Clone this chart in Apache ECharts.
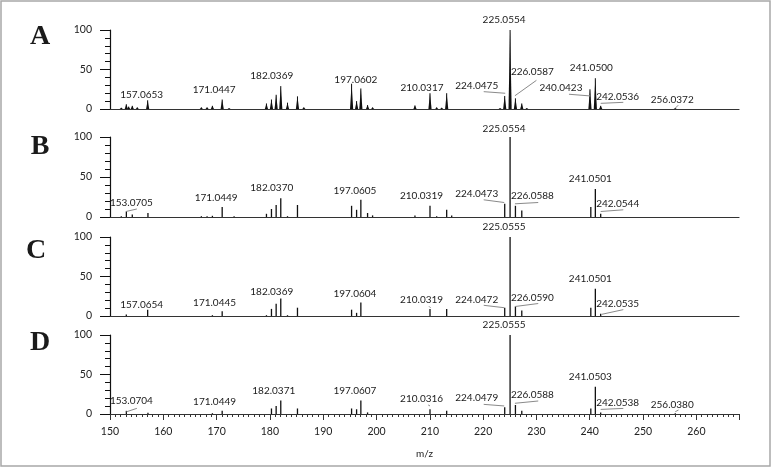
<!DOCTYPE html>
<html><head><meta charset="utf-8">
<script src="https://cdn.jsdelivr.net/npm/echarts@6/dist/echarts.min.js"></script>
<style>html,body{margin:0;padding:0;background:#fff}#c{width:773px;height:468px}</style>
</head><body><div id="c"></div>
<script>
// ---------- DATA ----------
const panelNames = ['A', 'B', 'C', 'D'];
const xMin = 150, xMax = 268, xStep = 10;
const yTicks = [0, 50, 100];
const xTitle = 'm/z';

const mzA  = [152.12,153.06,153.5,154.18,155.12,157.0653,167.14,168.21,169.21,171.0447,172.34,179.35,180.29,181.17,182.0369,183.30,185.17,186.36,195.32,196.26,197.0602,198.32,199.26,207.21,210.0317,211.28,212.22,213.16,223.18,224.0475,225.0554,226.0587,227.25,228.19,240.0423,241.0500,242.0536,256.0372];
const intA = [1.5,6,3,4,2,11,2,2,4,12,1,7,12,18,29,8,16,2,32,10,26,5,2,4.5,20,2,1.5,20,1,16.5,100,13.5,7,1,25,39,4,1];
const labelsA = ['157.0653','171.0447','182.0369','197.0602','210.0317','224.0475','225.0554','226.0587','240.0423','241.0500','242.0536','256.0372'];

const mzB  = [152.12,153.0705,154.18,157.12,167.14,168.21,169.21,171.0449,173.28,179.35,180.29,181.17,182.0370,183.30,185.17,195.32,196.26,197.0605,198.32,199.26,207.21,210.0319,211.28,213.16,214.10,224.0473,225.0554,226.0588,227.25,240.2,241.0501,242.0544];
const intB = [1,7,3,5,1,1,1.5,12.4,1,4,10,15,23.5,1,15,14,9,21.5,5,2,2,14,1,9,2,16.5,100,14,8,12.4,35,4];
const labelsB = ['153.0705','171.0449','182.0370','197.0605','210.0319','224.0473','225.0554','226.0588','241.0501','242.0544'];

const mzC  = [153.06,157.0654,169.21,171.0445,179.35,180.29,181.17,182.0369,183.30,185.17,195.32,196.26,197.0604,210.0319,213.16,224.0472,225.0555,226.0590,227.25,240.2,241.0501,242.0535];
const intC = [2,8,1,6,1,9,15.6,22,1,10.5,8,4,17,9,9,10.5,100,12,7,10.5,34.6,3];
const labelsC = ['157.0654','171.0445','182.0369','197.0604','210.0319','224.0472','225.0555','226.0590','241.0501','242.0535'];

const mzD  = [153.0704,157.12,169.21,171.0449,180.29,181.17,182.0371,185.17,195.32,196.26,197.0607,198.32,210.0316,213.16,224.0479,225.0555,226.0588,227.25,240.2,241.0503,242.0538,256.0380];
const intD = [4,1.5,1,4,7,10,17,7,7,6,17,2,6,4,8.4,100,11.4,4,7,34.6,2,1];
const labelsD = ['153.0704','171.0449','182.0371','197.0607','210.0316','224.0479','225.0555','226.0588','241.0503','242.0538','256.0380'];

// ---------- LAYOUT (label offsets in px relative to peak top; l = leader x1,y1,x2,y2) ----------
const labelLayout = [
 [{d:[-6,-6]},{d:[-8,-10]},{d:[-9,-10]},{d:[-5,-8.5]},{d:[-8,-5.5]},
  {d:[-28,-10],l:[-21,-4.3,0.5,-2.7]},{d:[-6,-10]},{d:[17,-27],l:[-0.5,-2.6,21,-18]},
  {d:[-29,-1],l:[-21,5,0.4,6.7]},{d:[-4,-10]},{d:[17,-9],l:[0,-2.5,22.6,-3.5]},{d:[-3,-8],l:[0,0,3,-3]}],
 [{d:[5,-9],l:[0,0,10.5,-2.4]},{d:[-6,-9.6]},{d:[-9,-10.7]},{d:[-6,-9]},{d:[-8.5,-10]},
  {d:[-28,-10],l:[-21,-4,-0.5,-1.3]},{d:[-6,-8.5]},{d:[17,-10],l:[-0.5,-2,22.8,-3.3]},{d:[-5,-10]},{d:[17,-10],l:[0,-2.3,22.6,-4]}],
 [{d:[-6,-4.5]},{d:[-7.6,-8.3]},{d:[-9,-6.6]},{d:[-6,-9]},{d:[-8.4,-9.6],l:[-1,-2.6,0.6,-1]},
  {d:[-28,-8.4],l:[-21,-2.4,-0.5,0]},{d:[-6,-10]},{d:[17,-9],l:[-0.5,0,22.8,-3]},{d:[-5,-10]},{d:[17,-10],l:[1,0.7,22.6,-4]}],
 [{d:[5,-10],l:[0,1,10.5,-2.5]},{d:[-7.6,-9]},{d:[-7,-9.6]},{d:[-6,-9.6]},{d:[-8.4,-10.3],l:[-1.8,-4.3,0,-3.3]},
  {d:[-28,-10],l:[-21,-3,-0.5,-1.4]},{d:[-6,-10]},{d:[17,-10],l:[-0.5,-1.7,22.8,-4]},{d:[-5,-9.4]},{d:[17,-10],l:[0,-3,22.6,-4]},{d:[-3,-8],l:[0,-1.5,3.3,-3.2]}]
];
const gridTops = [30, 137, 237, 335];
const gridHeights = [79, 80, 79, 79];
const letterPos = [[40,37],[40,147],[36,251],[40,343]];

const panels = [
  {mz: mzA, it: intA, labels: labelsA, profile: true},
  {mz: mzB, it: intB, labels: labelsB, profile: false},
  {mz: mzC, it: intC, labels: labelsC, profile: false},
  {mz: mzD, it: intD, labels: labelsD, profile: false}
];

const FONT = 'Lato';
const chart = echarts.init(document.getElementById('c'), null, {renderer: 'canvas'});

const grid = [], xAxis = [], yAxis = [], series = [];
panels.forEach((p, i) => {
  const last = i === 3;
  grid.push({left: 110, width: 629, top: gridTops[i], height: gridHeights[i]});
  xAxis.push({
    type: 'value', gridIndex: i, min: xMin, max: xMax, interval: xStep,
    axisLine: {show: true, onZero: false, lineStyle: {color: '#333', width: 1.2}},
    axisTick: {show: last, length: 6, lineStyle: {color: '#333'}},
    minorTick: {show: last, splitNumber: 10, length: 3, lineStyle: {color: '#333'}},
    axisLabel: {show: last, margin: 12, color: '#222', fontFamily: FONT, fontSize: 10.5, showMaxLabel: false,
      formatter: v => (v % 10 === 0 ? String(v) : '')},
    splitLine: {show: false},
    name: last ? xTitle : '', nameLocation: 'middle', nameGap: 35,
    nameTextStyle: {color: '#222', fontFamily: FONT, fontSize: 10}
  });
  yAxis.push({
    type: 'value', gridIndex: i, min: yTicks[0], max: yTicks[yTicks.length - 1], interval: yTicks[1] - yTicks[0],
    axisLine: {show: true, lineStyle: {color: '#111', width: 1.2}},
    axisTick: {show: true, length: 10, lineStyle: {color: '#111'}},
    minorTick: {show: true, splitNumber: 5, length: 5, lineStyle: {color: '#111'}},
    axisLabel: {margin: 18, color: '#222', fontFamily: FONT, fontSize: 10.5},
    splitLine: {show: false}
  });
  const peakData = p.mz.map((m, k) => [m, p.it[k]]);
  series.push({
    type: 'custom', coordinateSystem: 'cartesian2d', xAxisIndex: i, yAxisIndex: i,
    data: peakData, encode: {x: 0, y: 1}, clip: false, z: 3, silent: true,
    renderItem: (params, api) => {
      const x = api.value(0), h = api.value(1);
      const p0 = api.coord([x, 0]), p1 = api.coord([x, h]);
      if (p.profile) {
        return {type: 'group', children: [
          {type: 'polygon', shape: {points: [[p0[0] - 1.6, p0[1]], [p1[0], p1[1]], [p0[0] + 1.6, p0[1]]]}, style: {fill: '#111'}},
          {type: 'line', shape: {x1: p0[0], y1: p0[1], x2: p1[0], y2: p1[1]}, style: {stroke: '#111', lineWidth: 1}}
        ]};
      }
      return {type: 'line', shape: {x1: p0[0], y1: p0[1], x2: p1[0], y2: p1[1]}, style: {stroke: '#111', lineWidth: 1.3}};
    }
  });
  const labData = p.labels.map((s, k) => {
    const m = parseFloat(s);
    let best = 0;
    p.mz.forEach((v, j) => { if (Math.abs(v - m) < Math.abs(p.mz[best] - m)) best = j; });
    return [p.mz[best], p.it[best], k];
  });
  series.push({
    type: 'custom', coordinateSystem: 'cartesian2d', xAxisIndex: i, yAxisIndex: i,
    data: labData, encode: {x: 0, y: 1}, clip: false, z: 5, silent: true,
    renderItem: (params, api) => {
      const x = api.value(0), h = api.value(1), k = api.value(2);
      const top = api.coord([x, h]);
      const lay = labelLayout[i][k];
      const children = [{
        type: 'text', x: top[0] + lay.d[0], y: top[1] + lay.d[1],
        style: {text: p.labels[k], fill: '#1a1a1a', font: '10px ' + FONT, align: 'center', verticalAlign: 'middle'}
      }];
      if (lay.l) {
        children.push({type: 'line', shape: {x1: top[0] + lay.l[0], y1: top[1] + lay.l[1], x2: top[0] + lay.l[2], y2: top[1] + lay.l[3]},
          style: {stroke: '#8a8a8a', lineWidth: 1}});
      }
      return {type: 'group', children};
    }
  });
});

const graphic = [{
  type: 'rect', shape: {x: 1, y: 1, width: 769, height: 465},
  style: {fill: 'none', stroke: '#a8a8a8', lineWidth: 1.5}, silent: true
}];
panelNames.forEach((n, i) => graphic.push({
  type: 'text', x: letterPos[i][0], y: letterPos[i][1],
  style: {text: n, font: 'bold 28px "Liberation Serif"', fill: '#1a1a1a', align: 'center', verticalAlign: 'middle'}
}));

chart.setOption({animation: false, backgroundColor: '#fff', grid, xAxis, yAxis, series, graphic});
</script></body></html>
